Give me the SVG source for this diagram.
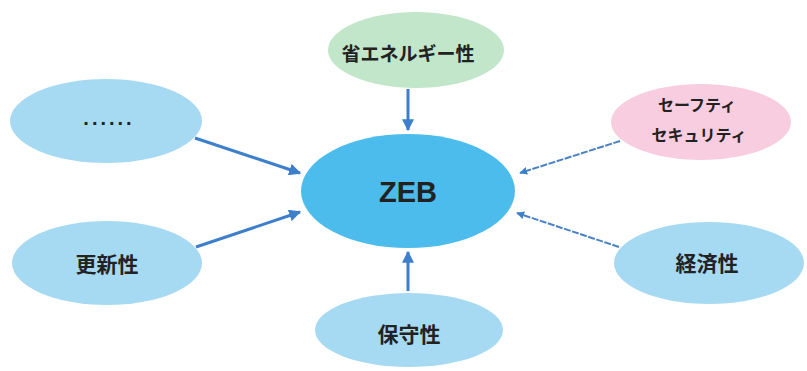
<svg xmlns="http://www.w3.org/2000/svg" width="807" height="371" viewBox="0 0 807 371">
<style>
.lb{fill:#a6daf3}
.t{font-family:"Noto Sans CJK JP","Noto Sans",sans-serif;font-weight:bold;fill:#222;text-anchor:middle;dominant-baseline:central}
.c{stroke:#3d7fca;stroke-width:3;fill:none;marker-end:url(#ah)}
.d{stroke:#4a82c4;stroke-width:2;fill:none;stroke-dasharray:7 1.5;marker-end:url(#ah)}
</style>
<defs>
<marker id="ah" viewBox="0 0 10 10" refX="9" refY="5" markerWidth="4" markerHeight="4" orient="auto" markerUnits="strokeWidth">
<path d="M0,0 L10,5 L0,10 z" fill="#3d7fca"/>
</marker>
</defs>
<rect width="807" height="371" fill="#ffffff"/>
<g id="connectors">
<line class="c" x1="408" y1="89" x2="408" y2="130"/>
<line class="c" x1="195" y1="138" x2="300" y2="173"/>
<line class="c" x1="196" y1="247" x2="300" y2="212"/>
<line class="c" x1="408" y1="291" x2="408" y2="252"/>
<line class="d" x1="620" y1="141" x2="520" y2="173"/>
<line class="d" x1="619" y1="247" x2="517" y2="213"/>
</g>
<g id="node-energy">
<ellipse cx="416" cy="50" rx="88" ry="38" fill="#c2e6c9"/>
<text class="t" x="408" y="52" font-size="19">省エネルギー性</text>
</g>
<g id="node-dots">
<ellipse class="lb" cx="106" cy="121" rx="96" ry="42"/>
<text x="109" y="125" font-size="20" font-weight="bold" fill="#222" text-anchor="middle" letter-spacing="3" font-family="'Liberation Sans',sans-serif">......</text>
</g>
<g id="node-renewal">
<ellipse class="lb" cx="107" cy="263" rx="95" ry="42"/>
<text class="t" x="107" y="263" font-size="21">更新性</text>
</g>
<g id="node-zeb">
<ellipse cx="408" cy="191" rx="107" ry="57" fill="#4cbced"/>
<text class="t" x="408" y="192" font-size="29" style="font-family:'Liberation Sans',sans-serif">ZEB</text>
</g>
<g id="node-maintenance">
<ellipse class="lb" cx="409" cy="330" rx="94" ry="37"/>
<text class="t" x="409" y="333" font-size="21">保守性</text>
</g>
<g id="node-safety">
<ellipse cx="701" cy="122" rx="90" ry="38" fill="#f8cde0"/>
<text class="t" x="697" y="104" font-size="16">セーフティ</text>
<text class="t" x="699" y="134" font-size="16">セキュリティ</text>
</g>
<g id="node-economy">
<ellipse class="lb" cx="709" cy="263" rx="95" ry="41"/>
<text class="t" x="707" y="262" font-size="21">経済性</text>
</g>
</svg>
